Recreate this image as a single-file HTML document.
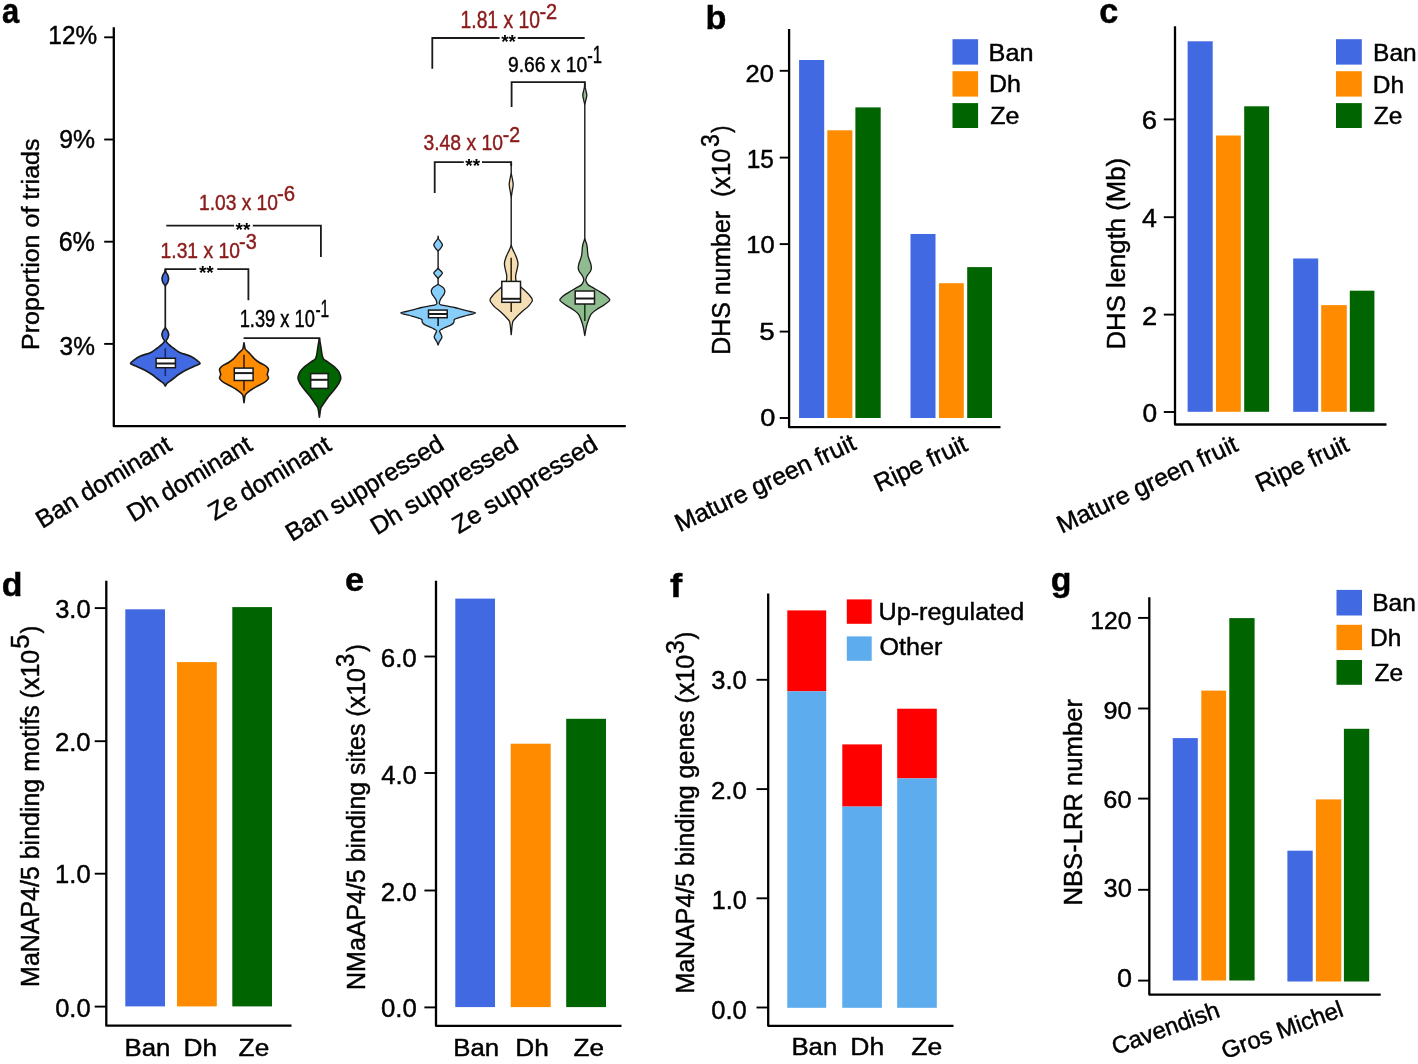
<!DOCTYPE html>
<html><head><meta charset="utf-8"><style>
html,body{margin:0;padding:0;background:#fff;}
svg{display:block;will-change:transform;}
text{font-family:"Liberation Sans", sans-serif;white-space:pre;stroke-width:0.45px;}
</style></head><body>
<svg width="1418" height="1064" viewBox="0 0 1418 1064">
<rect width="1418" height="1064" fill="#fff"/>
<text transform="translate(2.07,23.36) scale(0.9053,1)" font-size="34.18" font-weight="bold" fill="#000" stroke="#000">a</text>
<text transform="translate(705.47,28.56) scale(1.0153,1)" font-size="33.74" font-weight="bold" fill="#000" stroke="#000">b</text>
<text transform="translate(1099.13,23.36) scale(1.0013,1)" font-size="34.18" font-weight="bold" fill="#000" stroke="#000">c</text>
<text transform="translate(1.65,595.87) scale(1.0284,1)" font-size="32.93" font-weight="bold" fill="#000" stroke="#000">d</text>
<text transform="translate(345.02,590.97) scale(1.0275,1)" font-size="33.45" font-weight="bold" fill="#000" stroke="#000">e</text>
<text transform="translate(669.95,596.60) scale(1.0776,1)" font-size="33.93" font-weight="bold" fill="#000" stroke="#000">f</text>
<text transform="translate(1050.85,590.76) scale(1.0240,1)" font-size="33.07" font-weight="bold" fill="#000" stroke="#000">g</text>
<path d="M113.80,27.30 L113.80,426.20 L625.80,426.20" fill="none" stroke="#000" stroke-width="2.30" stroke-linejoin="round"/>
<line x1="104.20" y1="37.30" x2="113.80" y2="37.30" stroke="#000" stroke-width="1.90" stroke-linecap="butt"/>
<line x1="104.20" y1="139.50" x2="113.80" y2="139.50" stroke="#000" stroke-width="1.90" stroke-linecap="butt"/>
<line x1="104.20" y1="241.70" x2="113.80" y2="241.70" stroke="#000" stroke-width="1.90" stroke-linecap="butt"/>
<line x1="104.20" y1="343.90" x2="113.80" y2="343.90" stroke="#000" stroke-width="1.90" stroke-linecap="butt"/>
<text transform="translate(48.37,44.27) scale(0.9325,1)" font-size="26.10" fill="#000" stroke="#000">12%</text>
<text transform="translate(59.19,147.64) scale(0.9402,1)" font-size="26.34" fill="#000" stroke="#000">9%</text>
<text transform="translate(58.64,251.33) scale(0.9348,1)" font-size="26.90" fill="#000" stroke="#000">6%</text>
<text transform="translate(59.62,355.24) scale(0.9235,1)" font-size="26.48" fill="#000" stroke="#000">3%</text>
<text transform="translate(38.59,349.90) rotate(-90) scale(1.0091,1)" font-size="24.81" fill="#000" stroke="#000">Proportion of triads</text>
<path d="M166.30,225.70 L234.10,225.70" fill="none" stroke="#1a1a1a" stroke-width="1.80"/>
<path d="M252.80,225.70 L320.90,225.70 L320.90,257.00" fill="none" stroke="#1a1a1a" stroke-width="1.80"/>
<text x="243.00" y="235.50" font-size="19.0" font-weight="bold" text-anchor="middle">**</text>
<path d="M165.40,273.50 L165.40,269.20 L196.20,269.20" fill="none" stroke="#1a1a1a" stroke-width="1.80"/>
<path d="M217.30,269.20 L248.40,269.20 L248.40,300.30" fill="none" stroke="#1a1a1a" stroke-width="1.80"/>
<text x="206.30" y="279.00" font-size="19.0" font-weight="bold" text-anchor="middle">**</text>
<path d="M243.60,338.20 L319.40,338.20 L319.40,340.00" fill="none" stroke="#1a1a1a" stroke-width="1.80"/>
<path d="M432.30,68.80 L432.30,38.00 L499.60,38.00" fill="none" stroke="#1a1a1a" stroke-width="1.80"/>
<path d="M517.80,38.00 L584.70,38.00" fill="none" stroke="#1a1a1a" stroke-width="1.80"/>
<text x="508.60" y="47.70" font-size="19.0" font-weight="bold" text-anchor="middle">**</text>
<path d="M511.60,107.00 L511.60,82.10 L584.80,82.10 L584.80,87.00" fill="none" stroke="#1a1a1a" stroke-width="1.80"/>
<path d="M434.70,193.00 L434.70,162.10 L463.80,162.10" fill="none" stroke="#1a1a1a" stroke-width="1.80"/>
<path d="M482.00,162.10 L511.20,162.10 L511.20,166.00" fill="none" stroke="#1a1a1a" stroke-width="1.80"/>
<text x="472.70" y="171.80" font-size="19.0" font-weight="bold" text-anchor="middle">**</text>
<text transform="translate(198.96,210.08) scale(0.8574,1)" font-size="22.39" fill="#8B1A1A" stroke="#8B1A1A">1.03 x 10</text>
<text transform="translate(277.08,201.47) scale(0.8875,1)" font-size="22.96" fill="#8B1A1A" stroke="#8B1A1A">-6</text>
<text transform="translate(160.55,257.78) scale(0.8618,1)" font-size="22.39" fill="#8B1A1A" stroke="#8B1A1A">1.31 x 10</text>
<text transform="translate(239.11,249.28) scale(0.8875,1)" font-size="22.39" fill="#8B1A1A" stroke="#8B1A1A">-3</text>
<text transform="translate(239.63,327.06) scale(0.7521,1)" font-size="24.37" fill="#000" stroke="#000">1.39 x 10</text>
<text transform="translate(315.40,317.40) scale(0.6431,1)" font-size="24.06" fill="#000" stroke="#000">-1</text>
<text transform="translate(460.55,28.06) scale(0.8205,1)" font-size="23.52" fill="#8B1A1A" stroke="#8B1A1A">1.81 x 10</text>
<text transform="translate(539.40,19.00) scale(0.8805,1)" font-size="22.71" fill="#8B1A1A" stroke="#8B1A1A">-2</text>
<text transform="translate(508.03,71.97) scale(0.8545,1)" font-size="22.54" fill="#000" stroke="#000">9.66 x 10</text>
<text transform="translate(587.25,63.20) scale(0.7029,1)" font-size="23.62" fill="#000" stroke="#000">-1</text>
<text transform="translate(423.43,150.37) scale(0.8420,1)" font-size="22.96" fill="#8B1A1A" stroke="#8B1A1A">3.48 x 10</text>
<text transform="translate(502.82,141.70) scale(0.8805,1)" font-size="22.14" fill="#8B1A1A" stroke="#8B1A1A">-2</text>
<path d="M165.35,269.50 C165.43,270.17 165.47,270.83 165.60,271.50 C165.83,272.67 167.30,273.83 167.70,275.00 C168.13,276.27 168.60,277.53 168.60,278.80 C168.60,280.03 168.15,281.27 167.70,282.50 C167.33,283.50 165.85,284.50 165.60,285.50 C165.47,286.00 165.35,286.50 165.35,287.00 C165.35,291.33 165.35,295.67 165.35,300.00 C165.35,308.83 165.35,317.67 165.35,326.50 C165.35,327.00 165.47,327.50 165.60,328.00 C165.85,329.00 167.30,330.00 167.70,331.00 C168.18,332.20 168.70,333.40 168.70,334.60 C168.70,335.80 168.16,337.00 167.70,338.20 C167.35,339.13 166.10,340.07 166.10,341.00 C166.10,342.20 167.82,343.40 169.00,344.60 C170.12,345.73 171.79,346.87 173.30,348.00 C175.16,349.40 176.59,350.80 179.20,352.20 C181.87,353.63 188.31,355.07 191.10,356.50 C193.31,357.63 194.88,358.77 196.30,359.90 C197.80,361.10 200.10,362.30 200.10,363.50 C200.10,364.33 196.59,365.17 194.80,366.00 C192.66,367.00 190.32,368.00 188.30,369.00 C186.28,370.00 184.34,371.00 182.60,372.00 C180.86,373.00 179.19,374.00 177.80,375.00 C176.41,376.00 175.38,377.00 174.10,378.00 C173.04,378.83 171.91,379.67 170.80,380.50 C170.14,381.00 169.42,381.50 168.80,382.00 C167.97,382.67 167.01,383.33 166.50,384.00 C165.99,384.67 165.73,385.33 165.35,386.00 L165.25,386.00 C164.87,385.33 164.61,384.67 164.10,384.00 C163.59,383.33 162.63,382.67 161.80,382.00 C161.18,381.50 160.46,381.00 159.80,380.50 C158.69,379.67 157.56,378.83 156.50,378.00 C155.22,377.00 154.19,376.00 152.80,375.00 C151.41,374.00 149.74,373.00 148.00,372.00 C146.26,371.00 144.32,370.00 142.30,369.00 C140.28,368.00 137.94,367.00 135.80,366.00 C134.01,365.17 130.50,364.33 130.50,363.50 C130.50,362.30 132.80,361.10 134.30,359.90 C135.72,358.77 137.29,357.63 139.50,356.50 C142.29,355.07 148.73,353.63 151.40,352.20 C154.01,350.80 155.44,349.40 157.30,348.00 C158.81,346.87 160.48,345.73 161.60,344.60 C162.78,343.40 164.50,342.20 164.50,341.00 C164.50,340.07 163.25,339.13 162.90,338.20 C162.44,337.00 161.90,335.80 161.90,334.60 C161.90,333.40 162.42,332.20 162.90,331.00 C163.30,330.00 164.75,329.00 165.00,328.00 C165.13,327.50 165.25,327.00 165.25,326.50 C165.25,317.67 165.25,308.83 165.25,300.00 C165.25,295.67 165.25,291.33 165.25,287.00 C165.25,286.50 165.13,286.00 165.00,285.50 C164.75,284.50 163.27,283.50 162.90,282.50 C162.45,281.27 162.00,280.03 162.00,278.80 C162.00,277.53 162.47,276.27 162.90,275.00 C163.30,273.83 164.77,272.67 165.00,271.50 C165.13,270.83 165.17,270.17 165.25,269.50 Z" fill="#4169E1" stroke="#1a1a1a" stroke-width="1.60" stroke-linejoin="round"/>
<line x1="165.30" y1="348.20" x2="165.30" y2="358.30" stroke="#1a2a6a" stroke-width="1.60" stroke-linecap="butt"/>
<line x1="165.30" y1="367.70" x2="165.30" y2="376.00" stroke="#1a2a6a" stroke-width="1.60" stroke-linecap="butt"/>
<rect x="156.10" y="358.30" width="19.30" height="9.40" fill="#fff" stroke="#1a1a1a" stroke-width="1.50"/>
<line x1="156.10" y1="363.50" x2="175.40" y2="363.50" stroke="#1a1a1a" stroke-width="2.00" stroke-linecap="butt"/>
<path d="M244.05,342.80 C244.37,344.67 244.46,346.53 245.00,348.40 C245.48,350.03 248.02,351.67 249.50,353.30 C251.02,354.97 252.23,356.63 254.00,358.30 C255.49,359.70 257.29,361.10 259.40,362.50 C261.16,363.67 264.41,364.83 265.70,366.00 C266.99,367.17 268.50,368.33 268.50,369.50 C268.50,371.17 267.30,372.83 267.30,374.50 C267.30,375.67 268.50,376.83 268.50,378.00 C268.50,379.17 266.97,380.33 265.70,381.50 C264.14,382.93 260.49,384.37 258.00,385.80 C255.57,387.20 252.91,388.60 250.90,390.00 C249.23,391.17 247.54,392.33 246.50,393.50 C245.88,394.20 245.18,394.90 245.00,395.60 C244.39,397.97 244.37,400.33 244.05,402.70 L243.95,402.70 C243.63,400.33 243.61,397.97 243.00,395.60 C242.82,394.90 242.12,394.20 241.50,393.50 C240.46,392.33 238.77,391.17 237.10,390.00 C235.09,388.60 232.43,387.20 230.00,385.80 C227.51,384.37 223.86,382.93 222.30,381.50 C221.03,380.33 219.50,379.17 219.50,378.00 C219.50,376.83 220.70,375.67 220.70,374.50 C220.70,372.83 219.50,371.17 219.50,369.50 C219.50,368.33 221.01,367.17 222.30,366.00 C223.59,364.83 226.84,363.67 228.60,362.50 C230.71,361.10 232.51,359.70 234.00,358.30 C235.77,356.63 236.98,354.97 238.50,353.30 C239.98,351.67 242.52,350.03 243.00,348.40 C243.54,346.53 243.63,344.67 243.95,342.80 Z" fill="#FF8C00" stroke="#1a1a1a" stroke-width="1.60" stroke-linejoin="round"/>
<line x1="244.00" y1="354.70" x2="244.00" y2="368.10" stroke="#3a2000" stroke-width="1.60" stroke-linecap="butt"/>
<line x1="244.00" y1="380.50" x2="244.00" y2="390.70" stroke="#3a2000" stroke-width="1.60" stroke-linecap="butt"/>
<rect x="234.30" y="368.10" width="18.80" height="12.40" fill="#fff" stroke="#1a1a1a" stroke-width="1.50"/>
<line x1="234.30" y1="373.10" x2="253.10" y2="373.10" stroke="#1a1a1a" stroke-width="2.00" stroke-linecap="butt"/>
<path d="M319.45,338.50 C319.93,341.30 320.45,344.10 320.90,346.90 C321.36,349.73 321.56,352.57 322.20,355.40 C322.46,356.53 322.76,357.67 323.40,358.80 C324.04,359.93 326.55,361.07 328.10,362.20 C330.39,363.87 333.19,365.53 334.90,367.20 C336.65,368.90 338.37,370.60 339.10,372.30 C339.95,374.27 340.80,376.23 340.80,378.20 C340.80,380.20 339.37,382.20 338.30,384.20 C337.10,386.43 334.95,388.67 333.20,390.90 C331.42,393.17 329.39,395.43 327.70,397.70 C326.01,399.97 324.47,402.23 323.00,404.50 C322.27,405.63 321.21,406.77 320.90,407.90 C320.05,411.00 319.93,414.10 319.45,417.20 L319.35,417.20 C318.87,414.10 318.75,411.00 317.90,407.90 C317.59,406.77 316.53,405.63 315.80,404.50 C314.33,402.23 312.79,399.97 311.10,397.70 C309.41,395.43 307.38,393.17 305.60,390.90 C303.85,388.67 301.70,386.43 300.50,384.20 C299.43,382.20 298.00,380.20 298.00,378.20 C298.00,376.23 298.85,374.27 299.70,372.30 C300.43,370.60 302.15,368.90 303.90,367.20 C305.61,365.53 308.41,363.87 310.70,362.20 C312.25,361.07 314.76,359.93 315.40,358.80 C316.04,357.67 316.34,356.53 316.60,355.40 C317.24,352.57 317.44,349.73 317.90,346.90 C318.35,344.10 318.87,341.30 319.35,338.50 Z" fill="#006400" stroke="#1a1a1a" stroke-width="1.60" stroke-linejoin="round"/>
<rect x="310.70" y="373.60" width="17.40" height="14.80" fill="#fff" stroke="#1a1a1a" stroke-width="1.50"/>
<line x1="310.70" y1="379.80" x2="328.10" y2="379.80" stroke="#1a1a1a" stroke-width="2.00" stroke-linecap="butt"/>
<path d="M438.15,236.20 C438.23,236.97 438.26,237.73 438.40,238.50 C438.55,239.33 439.58,240.17 440.10,241.00 C440.94,242.33 442.40,243.67 442.40,245.00 C442.40,246.33 441.08,247.67 440.10,249.00 C439.66,249.60 438.60,250.20 438.40,250.80 C438.27,251.20 438.15,251.60 438.15,252.00 C438.15,257.00 438.15,262.00 438.15,267.00 C438.15,267.50 438.26,268.00 438.40,268.50 C438.58,269.17 439.72,269.83 440.30,270.50 C441.06,271.37 442.40,272.23 442.40,273.10 C442.40,274.07 441.06,275.03 440.30,276.00 C439.72,276.73 438.62,277.47 438.40,278.20 C438.27,278.63 438.15,279.07 438.15,279.50 C438.15,281.00 438.15,282.50 438.15,284.00 C438.15,284.43 439.02,284.87 439.60,285.30 C440.27,285.80 441.47,286.30 442.10,286.80 C442.94,287.47 443.77,288.13 444.10,288.80 C444.51,289.63 444.90,290.47 444.90,291.30 C444.90,292.20 444.47,293.10 444.10,294.00 C443.69,295.00 442.76,296.00 442.10,297.00 C441.42,298.03 440.46,299.07 440.10,300.10 C439.71,301.23 439.30,302.37 439.30,303.50 C439.30,303.90 439.84,304.30 440.50,304.70 C441.27,305.17 445.25,305.63 447.60,306.10 C449.95,306.57 452.59,307.03 454.60,307.50 C457.33,308.13 459.25,308.77 461.70,309.40 C464.40,310.10 467.48,310.80 470.10,311.50 C471.97,312.00 475.40,312.50 475.40,313.00 C475.40,313.83 469.28,314.67 466.40,315.50 C463.63,316.30 460.61,317.10 458.40,317.90 C456.74,318.50 454.10,319.10 454.10,319.70 C454.10,320.30 454.10,320.90 454.10,321.50 C454.10,322.17 453.60,322.83 453.10,323.50 C452.67,324.07 451.64,324.63 450.60,325.20 C449.62,325.73 447.89,326.27 446.70,326.80 C444.99,327.57 443.19,328.33 442.00,329.10 C441.02,329.73 439.60,330.37 439.60,331.00 C439.60,331.93 440.43,332.87 440.80,333.80 C441.23,334.90 442.00,336.00 442.00,337.10 C442.00,338.03 441.02,338.97 440.50,339.90 C440.05,340.70 439.45,341.50 439.10,342.30 C438.70,343.23 438.47,344.17 438.15,345.10 L438.05,345.10 C437.73,344.17 437.50,343.23 437.10,342.30 C436.75,341.50 436.15,340.70 435.70,339.90 C435.18,338.97 434.20,338.03 434.20,337.10 C434.20,336.00 434.97,334.90 435.40,333.80 C435.77,332.87 436.60,331.93 436.60,331.00 C436.60,330.37 435.18,329.73 434.20,329.10 C433.01,328.33 431.21,327.57 429.50,326.80 C428.31,326.27 426.58,325.73 425.60,325.20 C424.56,324.63 423.53,324.07 423.10,323.50 C422.60,322.83 422.10,322.17 422.10,321.50 C422.10,320.90 422.10,320.30 422.10,319.70 C422.10,319.10 419.46,318.50 417.80,317.90 C415.59,317.10 412.57,316.30 409.80,315.50 C406.92,314.67 400.80,313.83 400.80,313.00 C400.80,312.50 404.23,312.00 406.10,311.50 C408.72,310.80 411.80,310.10 414.50,309.40 C416.95,308.77 418.87,308.13 421.60,307.50 C423.61,307.03 426.25,306.57 428.60,306.10 C430.95,305.63 434.93,305.17 435.70,304.70 C436.36,304.30 436.90,303.90 436.90,303.50 C436.90,302.37 436.49,301.23 436.10,300.10 C435.74,299.07 434.78,298.03 434.10,297.00 C433.44,296.00 432.51,295.00 432.10,294.00 C431.73,293.10 431.30,292.20 431.30,291.30 C431.30,290.47 431.69,289.63 432.10,288.80 C432.43,288.13 433.26,287.47 434.10,286.80 C434.73,286.30 435.93,285.80 436.60,285.30 C437.18,284.87 438.05,284.43 438.05,284.00 C438.05,282.50 438.05,281.00 438.05,279.50 C438.05,279.07 437.93,278.63 437.80,278.20 C437.58,277.47 436.48,276.73 435.90,276.00 C435.14,275.03 433.80,274.07 433.80,273.10 C433.80,272.23 435.14,271.37 435.90,270.50 C436.48,269.83 437.62,269.17 437.80,268.50 C437.94,268.00 438.05,267.50 438.05,267.00 C438.05,262.00 438.05,257.00 438.05,252.00 C438.05,251.60 437.93,251.20 437.80,250.80 C437.60,250.20 436.54,249.60 436.10,249.00 C435.12,247.67 433.80,246.33 433.80,245.00 C433.80,243.67 435.26,242.33 436.10,241.00 C436.62,240.17 437.65,239.33 437.80,238.50 C437.94,237.73 437.97,236.97 438.05,236.20 Z" fill="#87CEFA" stroke="#1a1a1a" stroke-width="1.30" stroke-linejoin="round"/>
<line x1="438.10" y1="317.70" x2="438.10" y2="326.00" stroke="#1a1a1a" stroke-width="1.60" stroke-linecap="butt"/>
<rect x="428.50" y="310.10" width="18.70" height="7.60" fill="#fff" stroke="#1a1a1a" stroke-width="1.50"/>
<line x1="428.50" y1="314.00" x2="447.20" y2="314.00" stroke="#1a1a1a" stroke-width="2.00" stroke-linecap="butt"/>
<path d="M511.25,162.10 C511.25,165.57 511.25,169.03 511.25,172.50 C511.25,174.33 511.90,176.17 512.20,178.00 C512.55,180.13 513.20,182.27 513.20,184.40 C513.20,186.60 512.50,188.80 512.20,191.00 C511.85,193.50 511.25,196.00 511.25,198.50 C511.25,213.83 511.25,229.17 511.25,244.50 C511.25,245.67 511.80,246.83 512.20,248.00 C512.60,249.17 513.26,250.33 513.80,251.50 C514.60,253.23 515.61,254.97 516.20,256.70 C516.98,259.00 518.00,261.30 518.00,263.60 C518.00,265.90 517.23,268.20 516.80,270.50 C516.43,272.50 515.60,274.50 515.60,276.50 C515.60,278.33 515.83,280.17 516.20,282.00 C516.47,283.33 518.39,284.67 519.70,286.00 C521.10,287.43 522.97,288.87 524.50,290.30 C525.89,291.60 527.45,292.90 528.50,294.20 C530.12,296.20 532.40,298.20 532.40,300.20 C532.40,302.17 530.16,304.13 528.50,306.10 C526.84,308.07 523.72,310.03 521.60,312.00 C519.44,314.00 517.29,316.00 515.60,318.00 C514.50,319.30 512.99,320.60 512.70,321.90 C511.74,326.17 511.73,330.43 511.25,334.70 L511.15,334.70 C510.67,330.43 510.66,326.17 509.70,321.90 C509.41,320.60 507.90,319.30 506.80,318.00 C505.11,316.00 502.96,314.00 500.80,312.00 C498.68,310.03 495.56,308.07 493.90,306.10 C492.24,304.13 490.00,302.17 490.00,300.20 C490.00,298.20 492.28,296.20 493.90,294.20 C494.95,292.90 496.51,291.60 497.90,290.30 C499.43,288.87 501.30,287.43 502.70,286.00 C504.01,284.67 505.93,283.33 506.20,282.00 C506.57,280.17 506.80,278.33 506.80,276.50 C506.80,274.50 505.97,272.50 505.60,270.50 C505.17,268.20 504.40,265.90 504.40,263.60 C504.40,261.30 505.42,259.00 506.20,256.70 C506.79,254.97 507.80,253.23 508.60,251.50 C509.14,250.33 509.80,249.17 510.20,248.00 C510.60,246.83 511.15,245.67 511.15,244.50 C511.15,229.17 511.15,213.83 511.15,198.50 C511.15,196.00 510.55,193.50 510.20,191.00 C509.90,188.80 509.20,186.60 509.20,184.40 C509.20,182.27 509.85,180.13 510.20,178.00 C510.50,176.17 511.15,174.33 511.15,172.50 C511.15,169.03 511.15,165.57 511.15,162.10 Z" fill="#F5DEB3" stroke="#1a1a1a" stroke-width="1.30" stroke-linejoin="round"/>
<line x1="511.20" y1="257.70" x2="511.20" y2="281.40" stroke="#3a2a10" stroke-width="1.60" stroke-linecap="butt"/>
<line x1="511.20" y1="302.30" x2="511.20" y2="312.00" stroke="#3a2a10" stroke-width="1.60" stroke-linecap="butt"/>
<rect x="501.80" y="281.40" width="18.70" height="20.90" fill="#fff" stroke="#1a1a1a" stroke-width="1.50"/>
<line x1="501.80" y1="298.80" x2="520.50" y2="298.80" stroke="#1a1a1a" stroke-width="2.00" stroke-linecap="butt"/>
<path d="M584.85,82.10 C584.85,83.07 584.85,84.03 584.85,85.00 C584.85,86.67 585.48,88.33 585.80,90.00 C586.13,91.73 586.80,93.47 586.80,95.20 C586.80,96.97 586.13,98.73 585.80,100.50 C585.48,102.17 584.85,103.83 584.85,105.50 C584.85,149.67 584.85,193.83 584.85,238.00 C584.85,239.00 585.31,240.00 585.60,241.00 C585.89,242.00 586.37,243.00 586.60,244.00 C586.91,245.33 587.16,246.67 587.30,248.00 C587.44,249.33 587.47,250.67 587.60,252.00 C587.72,253.33 587.86,254.67 588.10,256.00 C588.34,257.33 588.95,258.67 589.40,260.00 C589.85,261.33 590.52,262.67 590.80,264.00 C591.08,265.33 591.40,266.67 591.40,268.00 C591.40,269.00 590.99,270.00 590.60,271.00 C590.21,272.00 589.06,273.00 588.40,274.00 C587.74,275.00 586.99,276.00 586.60,277.00 C586.25,277.90 585.80,278.80 585.80,279.70 C585.80,280.47 586.12,281.23 586.40,282.00 C586.74,282.93 587.27,283.87 588.10,284.80 C589.01,285.83 591.55,286.87 593.30,287.90 C595.67,289.30 598.25,290.70 600.50,292.10 C602.70,293.47 605.21,294.83 606.70,296.20 C608.01,297.40 609.80,298.60 609.80,299.80 C609.80,301.37 606.72,302.93 604.70,304.50 C602.47,306.23 598.68,307.97 596.40,309.70 C594.17,311.40 591.75,313.10 590.70,314.80 C589.42,316.87 588.81,318.93 588.10,321.00 C587.39,323.07 586.76,325.13 586.30,327.20 C585.69,329.97 585.33,332.73 584.85,335.50 L584.75,335.50 C584.27,332.73 583.91,329.97 583.30,327.20 C582.84,325.13 582.21,323.07 581.50,321.00 C580.79,318.93 580.18,316.87 578.90,314.80 C577.85,313.10 575.43,311.40 573.20,309.70 C570.92,307.97 567.13,306.23 564.90,304.50 C562.88,302.93 559.80,301.37 559.80,299.80 C559.80,298.60 561.59,297.40 562.90,296.20 C564.39,294.83 566.90,293.47 569.10,292.10 C571.35,290.70 573.93,289.30 576.30,287.90 C578.05,286.87 580.59,285.83 581.50,284.80 C582.33,283.87 582.86,282.93 583.20,282.00 C583.48,281.23 583.80,280.47 583.80,279.70 C583.80,278.80 583.35,277.90 583.00,277.00 C582.61,276.00 581.86,275.00 581.20,274.00 C580.54,273.00 579.39,272.00 579.00,271.00 C578.61,270.00 578.20,269.00 578.20,268.00 C578.20,266.67 578.52,265.33 578.80,264.00 C579.08,262.67 579.75,261.33 580.20,260.00 C580.65,258.67 581.26,257.33 581.50,256.00 C581.74,254.67 581.88,253.33 582.00,252.00 C582.12,250.67 582.16,249.33 582.30,248.00 C582.44,246.67 582.69,245.33 583.00,244.00 C583.23,243.00 583.71,242.00 584.00,241.00 C584.29,240.00 584.75,239.00 584.75,238.00 C584.75,193.83 584.75,149.67 584.75,105.50 C584.75,103.83 584.12,102.17 583.80,100.50 C583.47,98.73 582.80,96.97 582.80,95.20 C582.80,93.47 583.47,91.73 583.80,90.00 C584.12,88.33 584.75,86.67 584.75,85.00 C584.75,84.03 584.75,83.07 584.75,82.10 Z" fill="#8FBC8F" stroke="#1a1a1a" stroke-width="1.30" stroke-linejoin="round"/>
<line x1="584.80" y1="304.00" x2="584.80" y2="321.00" stroke="#1a3a1a" stroke-width="1.60" stroke-linecap="butt"/>
<rect x="575.20" y="291.00" width="19.30" height="13.00" fill="#fff" stroke="#1a1a1a" stroke-width="1.50"/>
<line x1="575.20" y1="298.50" x2="594.50" y2="298.50" stroke="#1a1a1a" stroke-width="2.00" stroke-linecap="butt"/>
<text transform="translate(42.23,528.95) rotate(-31.30) scale(1.0000,1)" font-size="24.90" fill="#000" stroke="#000">Ban dominant</text>
<text transform="translate(133.38,522.42) rotate(-31.30) scale(1.0000,1)" font-size="24.90" fill="#000" stroke="#000">Dh dominant</text>
<text transform="translate(214.72,520.99) rotate(-31.30) scale(1.0000,1)" font-size="24.90" fill="#000" stroke="#000">Ze dominant</text>
<text transform="translate(291.96,542.02) rotate(-31.30) scale(1.0000,1)" font-size="24.90" fill="#000" stroke="#000">Ban suppressed</text>
<text transform="translate(377.00,535.55) rotate(-31.30) scale(1.0000,1)" font-size="24.90" fill="#000" stroke="#000">Dh suppressed</text>
<text transform="translate(458.64,534.13) rotate(-31.30) scale(1.0000,1)" font-size="24.90" fill="#000" stroke="#000">Ze suppressed</text>
<path d="M789.10,29.00 L789.10,427.20 L1000.50,427.20" fill="none" stroke="#000" stroke-width="2.30" stroke-linejoin="round"/>
<line x1="779.70" y1="70.80" x2="789.10" y2="70.80" stroke="#000" stroke-width="1.90" stroke-linecap="butt"/>
<line x1="779.70" y1="157.60" x2="789.10" y2="157.60" stroke="#000" stroke-width="1.90" stroke-linecap="butt"/>
<line x1="779.70" y1="244.10" x2="789.10" y2="244.10" stroke="#000" stroke-width="1.90" stroke-linecap="butt"/>
<line x1="779.70" y1="331.60" x2="789.10" y2="331.60" stroke="#000" stroke-width="1.90" stroke-linecap="butt"/>
<line x1="779.70" y1="418.00" x2="789.10" y2="418.00" stroke="#000" stroke-width="1.90" stroke-linecap="butt"/>
<text transform="translate(745.53,81.86) scale(1.0522,1)" font-size="24.23" fill="#000" stroke="#000">20</text>
<text transform="translate(746.67,167.55) scale(0.9769,1)" font-size="25.00" fill="#000" stroke="#000">15</text>
<text transform="translate(746.29,253.26) scale(1.0725,1)" font-size="23.80" fill="#000" stroke="#000">10</text>
<text transform="translate(759.29,339.76) scale(1.1510,1)" font-size="24.14" fill="#000" stroke="#000">5</text>
<text transform="translate(760.21,425.65) scale(1.0956,1)" font-size="24.79" fill="#000" stroke="#000">0</text>
<rect x="799.10" y="60.00" width="25.10" height="358.00" fill="#4169E1"/>
<rect x="827.30" y="130.30" width="25.10" height="287.70" fill="#FF8C00"/>
<rect x="855.40" y="107.40" width="25.30" height="310.60" fill="#006400"/>
<rect x="910.50" y="234.00" width="25.00" height="184.00" fill="#4169E1"/>
<rect x="939.00" y="283.20" width="24.80" height="134.80" fill="#FF8C00"/>
<rect x="967.20" y="267.10" width="24.80" height="150.90" fill="#006400"/>
<text transform="translate(679.65,532.30) rotate(-25.20) scale(1.0000,1)" font-size="24.90" fill="#000" stroke="#000">Mature green fruit</text>
<text transform="translate(878.99,492.15) rotate(-25.20) scale(1.0000,1)" font-size="24.90" fill="#000" stroke="#000">Ripe fruit</text>
<rect x="952.50" y="39.20" width="25.60" height="25.40" fill="#4169E1"/>
<rect x="952.50" y="71.20" width="25.60" height="25.40" fill="#FF8C00"/>
<rect x="952.50" y="103.10" width="25.60" height="24.90" fill="#006400"/>
<text transform="translate(988.58,60.56) scale(1.0463,1)" font-size="24.14" fill="#000" stroke="#000">Ban</text>
<text transform="translate(989.00,92.30) scale(1.0706,1)" font-size="23.31" fill="#000" stroke="#000">Dh</text>
<text transform="translate(990.25,123.56) scale(1.0374,1)" font-size="24.14" fill="#000" stroke="#000">Ze</text>
<text transform="translate(729.50,354.79) rotate(-90) scale(0.9966,1)" font-size="25.00" fill="#000" stroke="#000">DHS number  (x10</text>
<text transform="translate(719.40,147.12) rotate(-90) scale(0.9191,1)" font-size="25.00" fill="#000" stroke="#000">3</text>
<text transform="translate(729.50,132.72) rotate(-90) scale(0.8615,1)" font-size="25.00" fill="#000" stroke="#000">)</text>
<path d="M1175.00,26.30 L1175.00,424.50 L1386.50,424.50" fill="none" stroke="#000" stroke-width="2.30" stroke-linejoin="round"/>
<line x1="1163.80" y1="119.40" x2="1175.00" y2="119.40" stroke="#000" stroke-width="1.90" stroke-linecap="butt"/>
<line x1="1163.80" y1="217.20" x2="1175.00" y2="217.20" stroke="#000" stroke-width="1.90" stroke-linecap="butt"/>
<line x1="1163.80" y1="314.60" x2="1175.00" y2="314.60" stroke="#000" stroke-width="1.90" stroke-linecap="butt"/>
<line x1="1163.80" y1="412.00" x2="1175.00" y2="412.00" stroke="#000" stroke-width="1.90" stroke-linecap="butt"/>
<text transform="translate(1141.83,128.65) scale(1.0987,1)" font-size="24.93" fill="#000" stroke="#000">6</text>
<text transform="translate(1141.93,227.00) scale(1.0389,1)" font-size="25.80" fill="#000" stroke="#000">4</text>
<text transform="translate(1141.94,325.00) scale(1.0778,1)" font-size="25.29" fill="#000" stroke="#000">2</text>
<text transform="translate(1142.45,421.75) scale(1.0556,1)" font-size="24.93" fill="#000" stroke="#000">0</text>
<rect x="1187.60" y="41.30" width="25.10" height="370.50" fill="#4169E1"/>
<rect x="1216.00" y="135.50" width="24.80" height="276.30" fill="#FF8C00"/>
<rect x="1244.20" y="106.30" width="24.90" height="305.50" fill="#006400"/>
<rect x="1293.20" y="258.50" width="25.00" height="153.30" fill="#4169E1"/>
<rect x="1321.20" y="305.10" width="25.60" height="106.70" fill="#FF8C00"/>
<rect x="1349.80" y="290.70" width="24.60" height="121.10" fill="#006400"/>
<text transform="translate(1061.65,533.70) rotate(-25.20) scale(1.0000,1)" font-size="24.90" fill="#000" stroke="#000">Mature green fruit</text>
<text transform="translate(1260.39,492.55) rotate(-25.20) scale(1.0000,1)" font-size="24.90" fill="#000" stroke="#000">Ripe fruit</text>
<rect x="1336.00" y="39.20" width="25.80" height="25.40" fill="#4169E1"/>
<rect x="1336.00" y="71.20" width="25.80" height="25.40" fill="#FF8C00"/>
<rect x="1336.00" y="103.10" width="25.80" height="24.90" fill="#006400"/>
<text transform="translate(1373.04,60.73) scale(1.0000,1)" font-size="24.50" fill="#000" stroke="#000">Ban</text>
<text transform="translate(1372.84,92.78) scale(1.0000,1)" font-size="24.50" fill="#000" stroke="#000">Dh</text>
<text transform="translate(1373.87,123.73) scale(1.0000,1)" font-size="24.50" fill="#000" stroke="#000">Ze</text>
<text transform="translate(1124.60,349.46) rotate(-90) scale(1.0294,1)" font-size="25.00" fill="#000" stroke="#000">DHS length (Mb)</text>
<path d="M106.30,580.80 L106.30,1025.70 L291.50,1025.70" fill="none" stroke="#000" stroke-width="2.30" stroke-linejoin="round"/>
<line x1="94.70" y1="608.10" x2="106.30" y2="608.10" stroke="#000" stroke-width="1.90" stroke-linecap="butt"/>
<line x1="94.70" y1="741.20" x2="106.30" y2="741.20" stroke="#000" stroke-width="1.90" stroke-linecap="butt"/>
<line x1="94.70" y1="873.70" x2="106.30" y2="873.70" stroke="#000" stroke-width="1.90" stroke-linecap="butt"/>
<line x1="94.70" y1="1006.60" x2="106.30" y2="1006.60" stroke="#000" stroke-width="1.90" stroke-linecap="butt"/>
<text transform="translate(55.18,618.04) scale(0.9732,1)" font-size="26.20" fill="#000" stroke="#000">3.0</text>
<text transform="translate(54.92,750.74) scale(0.9807,1)" font-size="26.20" fill="#000" stroke="#000">2.0</text>
<text transform="translate(55.08,883.04) scale(0.9760,1)" font-size="26.20" fill="#000" stroke="#000">1.0</text>
<text transform="translate(55.18,1016.74) scale(0.9785,1)" font-size="26.06" fill="#000" stroke="#000">0.0</text>
<rect x="125.30" y="609.30" width="39.70" height="397.10" fill="#4169E1"/>
<rect x="177.00" y="662.10" width="39.80" height="344.30" fill="#FF8C00"/>
<rect x="232.30" y="607.10" width="39.70" height="399.30" fill="#006400"/>
<text transform="translate(124.44,1055.50) scale(1.0535,1)" font-size="24.50" fill="#000" stroke="#000">Ban</text>
<text transform="translate(183.50,1055.50) scale(1.0728,1)" font-size="24.50" fill="#000" stroke="#000">Dh</text>
<text transform="translate(238.61,1055.50) scale(1.0710,1)" font-size="24.50" fill="#000" stroke="#000">Ze</text>
<text transform="translate(38.70,986.90) rotate(-90) scale(0.9990,1)" font-size="25.00" fill="#000" stroke="#000">MaNAP4/5 binding motifs (x10</text>
<text transform="translate(29.40,648.63) rotate(-90) scale(1.0274,1)" font-size="25.00" fill="#000" stroke="#000">5</text>
<text transform="translate(38.70,633.53) rotate(-90) scale(0.9231,1)" font-size="25.00" fill="#000" stroke="#000">)</text>
<path d="M436.00,580.80 L436.00,1025.80 L621.50,1025.80" fill="none" stroke="#000" stroke-width="2.30" stroke-linejoin="round"/>
<line x1="424.40" y1="656.50" x2="436.00" y2="656.50" stroke="#000" stroke-width="1.90" stroke-linecap="butt"/>
<line x1="424.40" y1="773.00" x2="436.00" y2="773.00" stroke="#000" stroke-width="1.90" stroke-linecap="butt"/>
<line x1="424.40" y1="890.50" x2="436.00" y2="890.50" stroke="#000" stroke-width="1.90" stroke-linecap="butt"/>
<line x1="424.40" y1="1007.40" x2="436.00" y2="1007.40" stroke="#000" stroke-width="1.90" stroke-linecap="butt"/>
<text transform="translate(380.70,667.24) scale(1.0087,1)" font-size="25.77" fill="#000" stroke="#000">6.0</text>
<text transform="translate(381.16,784.14) scale(0.9902,1)" font-size="25.92" fill="#000" stroke="#000">4.0</text>
<text transform="translate(380.70,900.74) scale(1.0087,1)" font-size="25.77" fill="#000" stroke="#000">2.0</text>
<text transform="translate(380.97,1017.04) scale(1.0010,1)" font-size="25.77" fill="#000" stroke="#000">0.0</text>
<rect x="455.30" y="598.60" width="39.70" height="408.50" fill="#4169E1"/>
<rect x="510.70" y="743.70" width="40.00" height="263.40" fill="#FF8C00"/>
<rect x="566.20" y="718.80" width="39.80" height="288.30" fill="#006400"/>
<text transform="translate(453.24,1055.50) scale(1.0535,1)" font-size="24.50" fill="#000" stroke="#000">Ban</text>
<text transform="translate(515.20,1055.50) scale(1.0728,1)" font-size="24.50" fill="#000" stroke="#000">Dh</text>
<text transform="translate(573.62,1055.50) scale(1.0672,1)" font-size="24.50" fill="#000" stroke="#000">Ze</text>
<text transform="translate(364.50,989.90) rotate(-90) scale(0.9988,1)" font-size="25.00" fill="#000" stroke="#000">NMaAP4/5 binding sites (x10</text>
<text transform="translate(354.10,666.95) rotate(-90) scale(0.9532,1)" font-size="25.00" fill="#000" stroke="#000">3</text>
<text transform="translate(364.50,652.03) rotate(-90) scale(0.9231,1)" font-size="25.00" fill="#000" stroke="#000">)</text>
<path d="M768.20,593.50 L768.20,1025.80 L953.50,1025.80" fill="none" stroke="#000" stroke-width="2.30" stroke-linejoin="round"/>
<line x1="756.50" y1="679.80" x2="768.20" y2="679.80" stroke="#000" stroke-width="1.90" stroke-linecap="butt"/>
<line x1="756.50" y1="789.10" x2="768.20" y2="789.10" stroke="#000" stroke-width="1.90" stroke-linecap="butt"/>
<line x1="756.50" y1="898.30" x2="768.20" y2="898.30" stroke="#000" stroke-width="1.90" stroke-linecap="butt"/>
<line x1="756.50" y1="1007.50" x2="768.20" y2="1007.50" stroke="#000" stroke-width="1.90" stroke-linecap="butt"/>
<text transform="translate(711.28,689.34) scale(0.9922,1)" font-size="25.77" fill="#000" stroke="#000">3.0</text>
<text transform="translate(711.01,799.25) scale(1.0396,1)" font-size="24.79" fill="#000" stroke="#000">2.0</text>
<text transform="translate(711.81,909.34) scale(0.9768,1)" font-size="25.77" fill="#000" stroke="#000">1.0</text>
<text transform="translate(711.28,1019.14) scale(0.9922,1)" font-size="25.77" fill="#000" stroke="#000">0.0</text>
<rect x="787.30" y="610.40" width="38.90" height="80.90" fill="#FF0000"/>
<rect x="787.30" y="691.30" width="38.90" height="316.50" fill="#5CACEE"/>
<rect x="842.30" y="744.40" width="39.60" height="62.20" fill="#FF0000"/>
<rect x="842.30" y="806.60" width="39.60" height="201.20" fill="#5CACEE"/>
<rect x="897.20" y="708.70" width="39.60" height="69.70" fill="#FF0000"/>
<rect x="897.20" y="778.40" width="39.60" height="229.40" fill="#5CACEE"/>
<rect x="846.80" y="599.40" width="24.90" height="24.40" fill="#FF0000"/>
<rect x="846.80" y="636.40" width="24.90" height="24.40" fill="#5CACEE"/>
<text transform="translate(878.51,620.00) scale(1.0291,1)" font-size="24.50" fill="#000" stroke="#000">Up-regulated</text>
<text transform="translate(879.47,655.00) scale(1.0254,1)" font-size="24.50" fill="#000" stroke="#000">Other</text>
<text transform="translate(791.44,1054.60) scale(1.0510,1)" font-size="24.50" fill="#000" stroke="#000">Ban</text>
<text transform="translate(850.28,1054.60) scale(1.0836,1)" font-size="24.50" fill="#000" stroke="#000">Dh</text>
<text transform="translate(911.20,1054.60) scale(1.0822,1)" font-size="24.50" fill="#000" stroke="#000">Ze</text>
<text transform="translate(694.10,993.60) rotate(-90) scale(0.9993,1)" font-size="25.00" fill="#000" stroke="#000">MaNAP4/5 binding genes (x10</text>
<text transform="translate(684.20,653.90) rotate(-90) scale(1.0043,1)" font-size="25.00" fill="#000" stroke="#000">3</text>
<text transform="translate(694.10,639.43) rotate(-90) scale(0.9231,1)" font-size="25.00" fill="#000" stroke="#000">)</text>
<path d="M1149.30,597.30 L1149.30,994.60 L1380.70,994.60" fill="none" stroke="#000" stroke-width="2.30" stroke-linejoin="round"/>
<line x1="1138.10" y1="617.90" x2="1149.30" y2="617.90" stroke="#000" stroke-width="1.90" stroke-linecap="butt"/>
<line x1="1138.10" y1="708.50" x2="1149.30" y2="708.50" stroke="#000" stroke-width="1.90" stroke-linecap="butt"/>
<line x1="1138.10" y1="798.60" x2="1149.30" y2="798.60" stroke="#000" stroke-width="1.90" stroke-linecap="butt"/>
<line x1="1138.10" y1="889.80" x2="1149.30" y2="889.80" stroke="#000" stroke-width="1.90" stroke-linecap="butt"/>
<line x1="1138.10" y1="980.60" x2="1149.30" y2="980.60" stroke="#000" stroke-width="1.90" stroke-linecap="butt"/>
<text transform="translate(1090.35,628.75) scale(0.9942,1)" font-size="24.79" fill="#000" stroke="#000">120</text>
<text transform="translate(1103.47,718.65) scale(1.0154,1)" font-size="24.79" fill="#000" stroke="#000">90</text>
<text transform="translate(1103.34,807.55) scale(1.0204,1)" font-size="24.79" fill="#000" stroke="#000">60</text>
<text transform="translate(1103.58,897.24) scale(0.9869,1)" font-size="25.77" fill="#000" stroke="#000">30</text>
<text transform="translate(1116.92,987.14) scale(1.0398,1)" font-size="25.92" fill="#000" stroke="#000">0</text>
<rect x="1172.80" y="738.10" width="25.00" height="242.40" fill="#4169E1"/>
<rect x="1201.30" y="690.60" width="24.80" height="289.90" fill="#FF8C00"/>
<rect x="1229.30" y="618.10" width="25.30" height="362.40" fill="#006400"/>
<rect x="1287.40" y="850.70" width="25.30" height="130.80" fill="#4169E1"/>
<rect x="1315.90" y="799.40" width="25.40" height="182.10" fill="#FF8C00"/>
<rect x="1343.90" y="728.80" width="25.30" height="252.70" fill="#006400"/>
<rect x="1336.50" y="589.90" width="25.50" height="25.60" fill="#4169E1"/>
<rect x="1336.50" y="624.80" width="25.50" height="25.30" fill="#FF8C00"/>
<rect x="1336.50" y="660.00" width="25.50" height="24.80" fill="#006400"/>
<text transform="translate(1372.24,611.13) scale(1.0000,1)" font-size="24.50" fill="#000" stroke="#000">Ban</text>
<text transform="translate(1370.04,646.28) scale(1.0000,1)" font-size="24.50" fill="#000" stroke="#000">Dh</text>
<text transform="translate(1374.47,681.23) scale(1.0000,1)" font-size="24.50" fill="#000" stroke="#000">Ze</text>
<text transform="translate(1115.24,1055.09) rotate(-20.00) scale(1.0000,1)" font-size="23.90" fill="#000" stroke="#000">Cavendish</text>
<text transform="translate(1225.06,1059.24) rotate(-20.00) scale(1.0000,1)" font-size="23.90" fill="#000" stroke="#000">Gros Michel</text>
<text transform="translate(1081.50,905.55) rotate(-90) scale(1.0261,1)" font-size="25.00" fill="#000" stroke="#000">NBS-LRR number</text>
</svg>
</body></html>
